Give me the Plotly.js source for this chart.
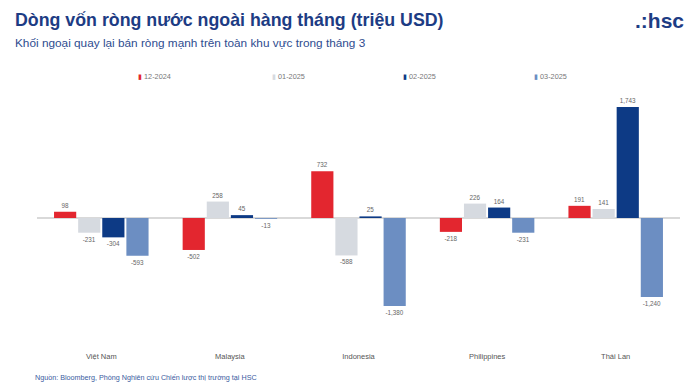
<!DOCTYPE html>
<html><head><meta charset="utf-8">
<script src="https://cdn.plot.ly/plotly-3.0.1.min.js"></script>
<style>html,body{margin:0;padding:0;background:#fff}#chart{width:698px;height:390px}</style>
</head><body><div id="chart"></div>
<script>
const categories = ["Việt Nam", "Malaysia", "Indonesia", "Philippines", "Thái Lan"];
const seriesNames = ["12-2024", "01-2025", "02-2025", "03-2025"];
const dec2024 = [98, -502, 732, -218, 191];
const jan2025 = [-231, 258, -588, 226, 141];
const feb2025 = [-304, 45, 25, 164, 1743];
const mar2025 = [-593, -13, -1380, -231, -1240];
const colors = ["#E3262F", "#D6DAE0", "#0D3A85", "#6C8EC2"];
const values = [dec2024, jan2025, feb2025, mar2025];

const L = 37, R = 18, T = 95, B = 45, W = 698, H = 390;
const pw = W - L - R, ph = H - T - B;
const px = x => (x - L) / pw;
const py = y => (H - B - y) / ph;

const traces = values.map((v, i) => ({
  type: 'bar', name: seriesNames[i], x: categories, y: v,
  marker: {color: colors[i]},
  texttemplate: '%{y:,}', textposition: 'outside', cliponaxis: false,
  textfont: {size: 6.3, color: '#666'},
  hoverinfo: 'x+y'
}));

const legendX = [138, 272, 403, 534];
const legendAnn = seriesNames.map((n, i) => ({
  text: '<span style="color:' + colors[i] + '">▮</span> ' + n,
  xref: 'paper', yref: 'paper', x: px(legendX[i] - 2), y: py(77),
  xanchor: 'left', yanchor: 'middle', showarrow: false,
  font: {size: 7.3, color: '#777'}
}));

const layout = {
  width: W, height: H,
  margin: {l: L, r: R, t: T, b: B},
  paper_bgcolor: '#fff', plot_bgcolor: '#fff',
  font: {family: 'Liberation Sans, Arial, sans-serif'},
  barmode: 'group', bargap: 0.25, bargroupgap: 0.08,
  showlegend: false,
  xaxis: {showgrid: false, showline: false, ticks: '', tickfont: {size: 7.5, color: '#555'},
    ticklabelstandoff: 5, fixedrange: true},
  yaxis: {range: [-1994, 1931], showgrid: false, showticklabels: false, ticks: '',
    zeroline: true, zerolinecolor: '#D9D9D9', zerolinewidth: 2, fixedrange: true},
  annotations: [
    {text: '<b>Dòng vốn ròng nước ngoài hàng tháng (triệu USD)</b>', xref: 'paper', yref: 'paper',
     x: px(13), y: py(20), xanchor: 'left', yanchor: 'middle', showarrow: false,
     font: {size: 17.8, color: '#1D3C84'}},
    {text: 'Khối ngoại quay lại bán ròng mạnh trên toàn khu vực trong tháng 3', xref: 'paper', yref: 'paper',
     x: px(13), y: py(43), xanchor: 'left', yanchor: 'middle', showarrow: false,
     font: {size: 11.8, color: '#2E4C8F'}},
    {text: '<b>.:hsc</b>', xref: 'paper', yref: 'paper',
     x: px(686), y: py(21), xanchor: 'right', yanchor: 'middle', showarrow: false,
     font: {size: 21, color: '#1D3C84'}},
    {text: 'Nguồn: Bloomberg, Phòng Nghiên cứu Chiến lược thị trường tại HSC', xref: 'paper', yref: 'paper',
     x: px(33), y: py(377), xanchor: 'left', yanchor: 'middle', showarrow: false,
     font: {size: 7.2, color: '#3A5BA0'}}
  ].concat(legendAnn)
};
Plotly.newPlot('chart', traces, layout, {displayModeBar: false, staticPlot: true});
</script></body></html>
